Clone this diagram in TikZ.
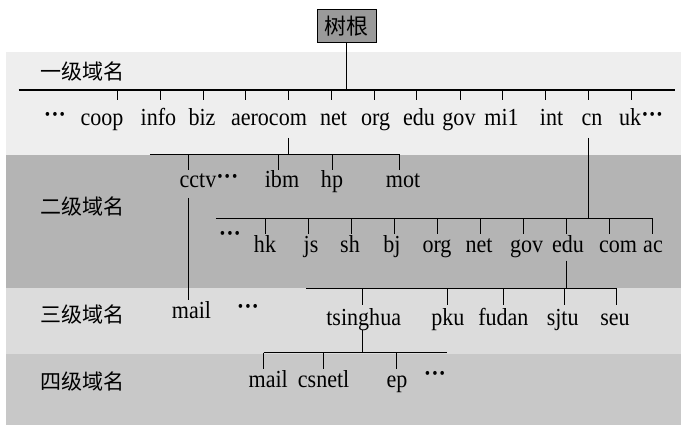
\documentclass[tikz,border=0pt]{standalone}
\usepackage{fontspec}
\setmainfont{Liberation Serif}
\newfontfamily\domfont[FakeStretch=0.9]{Liberation Serif}
\newfontfamily\cjk{Noto Sans CJK SC}
\definecolor{bandA}{HTML}{EEEEEE}
\definecolor{bandB}{HTML}{B4B4B4}
\definecolor{bandC}{HTML}{DCDCDC}
\definecolor{bandD}{HTML}{C8C8C8}
\definecolor{rootfill}{HTML}{9A9A9A}
\newcommand{\mdots}{\raisebox{3.5pt}{\bfseries ···}}
\begin{document}
\begin{tikzpicture}[x=1pt,y=-1pt,
  lvl/.style={inner sep=0pt, anchor=west, font=\cjk\fontsize{21}{21}\selectfont},
  dom/.style={inner sep=0pt, anchor=base, font=\domfont\fontsize{24.5}{24.5}\selectfont},
  dotsnode/.style={inner sep=0pt, anchor=center, font=\domfont\bfseries\fontsize{24.5}{24.5}\selectfont},
  link/.style={line width=1pt},
  bar/.style={line width=1.3pt}]
\useasboundingbox (0,0) rectangle (681,425);

% level bands
\fill[bandA] (5.5,51.7) rectangle (681,155);
\fill[bandB] (5.5,155) rectangle (681,288.5);
\fill[bandC] (5.5,288.5) rectangle (681,354);
\fill[bandD] (5.5,354) rectangle (681,425);

% level captions
\node[lvl] (cap1) at (40,72) {一级域名};
\node[lvl] (cap2) at (40,206.7) {二级域名};
\node[lvl] (cap3) at (40,315) {三级域名};
\node[lvl] (cap4) at (40,381.7) {四级域名};

% root
\node[draw, fill=rootfill, line width=1pt, minimum width=59pt, minimum height=33pt,
      inner sep=0pt, font=\cjk\fontsize{22}{22}\selectfont] (root) at (346.5,26.5) {树根};

% top-level domains
\coordinate (b1l) at (18.7,90);
\coordinate (b1r) at (674.5,90);
\draw[bar] (b1l) -- (b1r);
\draw[link] (root.south) -- (root.south |- b1l);
\foreach \x in {117.3,160.7,203.3,245.8,288.8,331.4,374.4,416.9,460.4,502.9,545.9,588.5,631.1}
  \draw[link] (\x,90) -- (\x,100);
\node[dotsnode] (d1) at (55,117) {···};
\node[dom] (coop) at (102,126) {coop};
\node[dom] (info) at (158.5,126) {info};
\node[dom] (biz) at (202,126) {biz};
\node[dom] (aerocom) at (269,126) {aerocom};
\node[dom] (net) at (333.5,126) {net};
\node[dom] (org) at (375.7,126) {org};
\node[dom] (edu) at (419,126) {edu};
\node[dom] (gov) at (459,126) {gov};
\node[dom] (mil) at (501.6,126) {mi1};
\node[dom] (int) at (551.6,126) {int};
\node[dom] (cn) at (592,126) {cn};
\node[dom, anchor=base west] (uk) at (619,126) {uk\mdots};

% second level under com
\coordinate (comtop) at (288.8,138);
\coordinate (b2l) at (149.8,154.3);
\coordinate (b2r) at (399.6,154.3);
\draw[link] (comtop) -- (comtop |- b2l);
\draw[bar] (b2l) -- (b2r);
\foreach \x in {188,278,332,399.6}
  \draw[link] (\x,154.3) -- (\x,170);
\node[dom, anchor=base west] (cctv) at (179.4,188) {cctv\mdots};
\node[dom] (ibm) at (282,188) {ibm};
\node[dom] (hp) at (332,188) {hp};
\node[dom] (mot) at (403,188) {mot};

% second level under cn
\coordinate (cntop) at (588.5,138);
\coordinate (b3l) at (215.9,218.3);
\coordinate (b3r) at (652.3,218.3);
\draw[link] (cntop) -- (cntop |- b3l);
\draw[bar] (b3l) -- (b3r);
\foreach \x in {265.8,308.8,351.8,394.8,437.8,480.8,523.8,566.8,609.8,652.3}
  \draw[link] (\x,218.3) -- (\x,234.3);
\node[dotsnode] (d2) at (230,236.7) {···};
\node[dom] (hk) at (265,253) {hk};
\node[dom] (js) at (311,253) {js};
\node[dom] (sh) at (350,253) {sh};
\node[dom] (bj) at (392,253) {bj};
\node[dom] (cnorg) at (437,253) {org};
\node[dom] (cnnet) at (479,253) {net};
\node[dom] (cngov) at (526.6,253) {gov};
\node[dom] (cnedu) at (568,253) {edu};
\node[dom] (cncom) at (618,253) {com};
\node[dom] (ac) at (653,253) {ac};

% third level
\coordinate (cctvtop) at (188,198);
\node[dom] (mail3) at (191.5,319) {mail};
\draw[link] (cctvtop) -- (188,300);
\node[dotsnode] (d3) at (248,309) {···};

\coordinate (edutop) at (566.8,260.7);
\coordinate (b4l) at (306,288.5);
\coordinate (b4r) at (616.7,288.5);
\draw[link] (edutop) -- (edutop |- b4l);
\draw[bar] (b4l) -- (b4r);
\foreach \x in {362.6,447.3,503.8,564.6,616.7}
  \draw[link] (\x,288.5) -- (\x,305);
\node[dom] (tsinghua) at (363.7,325) {tsinghua};
\node[dom] (pku) at (447.8,325) {pku};
\node[dom] (fudan) at (503.4,325) {fudan};
\node[dom] (sjtu) at (562.7,325) {sjtu};
\node[dom] (seu) at (615,325) {seu};

% fourth level
\coordinate (thtop) at (362.6,330);
\coordinate (b5l) at (263.6,352.7);
\coordinate (b5r) at (447.3,352.7);
\draw[link] (thtop) -- (thtop |- b5l);
\draw[bar] (b5l) -- (b5r);
\foreach \x in {263.6,323.6,396}
  \draw[link] (\x,352.7) -- (\x,369.3);
\node[dom] (mail4) at (268.2,387.3) {mail};
\node[dom] (csnetl) at (323.6,387.3) {csnetl};
\node[dom] (ep) at (397,387.3) {ep};
\node[dotsnode] (d4) at (435,376.7) {···};
\end{tikzpicture}
\end{document}
